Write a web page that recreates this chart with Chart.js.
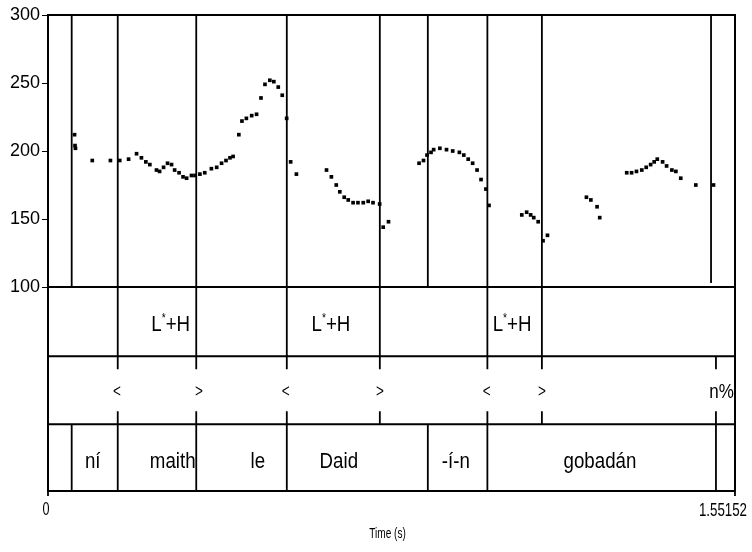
<!DOCTYPE html>
<html>
<head>
<meta charset="utf-8">
<script src="https://cdn.jsdelivr.net/npm/chart.js@4"></script>
<style>
    body { margin: 0; background: #fff; }
    canvas { display: block; }
</style>
</head>
<body>
<canvas id="pitchChart" width="752" height="552"></canvas>
<script>
// pitch track (seconds / Hz)
const pitchTimes = [0.060,0.061,0.062,0.100,0.141,0.162,0.182,0.200,0.211,0.221,
    0.230,0.245,0.252,0.261,0.270,0.279,0.286,0.296,0.305,0.313,
    0.324,0.332,0.343,0.354,0.369,0.381,0.392,0.402,0.411,0.418,
    0.431,0.438,0.448,0.460,0.471,0.481,0.490,0.501,0.510,0.520,
    0.529,0.539,0.548,0.561,0.629,0.640,0.651,0.659,0.669,0.678,
    0.689,0.700,0.712,0.723,0.734,0.749,0.757,0.769,0.838,0.848,
    0.856,0.865,0.871,0.885,0.900,0.914,0.929,0.939,0.949,0.959,
    0.969,0.978,0.989,0.996,1.070,1.081,1.090,1.097,1.107,1.118,
    1.128,1.216,1.226,1.240,1.246,1.307,1.318,1.329,1.341,1.351,
    1.361,1.369,1.376,1.388,1.397,1.409,1.418,1.429,1.463,1.503];
const pitchHz = [212,204,202,193,193,193,194,198,195,192,
    190,186,185,188,191,190,186,184,181,180,
    182,182,183,184,187,188,191,193,195,196,
    212,222,224,226,227,239,249,252,251,247,
    241,224,192,183,186,181,175,170,166,164,
    162,162,162,163,162,161,144,148,191,193,
    197,199,201,202,201,200,199,197,194,191,
    186,179,172,160,153,155,153,151,148,134,
    138,166,164,159,151,184,184,185,186,188,
    190,192,194,192,189,186,185,180,175,175];

const yTicks = [100, 150, 200, 250, 300];
const xTickLabels = ['0', '1.55152'];
const totalTime = 1.55152;

// segment lines in the pitch pane
const pitchLines = [0.0535, 0.1575, 0.3348, 0.5393, 0.7494, 0.8578, 0.9923, 1.1154, 1.4974];

// tiers (value range on the y scale below 100)
const tierEdges = [100, 49, -1, -50];

const tier1Bounds = [0.1575, 0.3348, 0.5393, 0.7494, 0.9923, 1.1154];
const tier1Times = [0.277, 0.639, 1.048];
const tier1Labels = ['L*+H', 'L*+H', 'L*+H'];

const tier2Marks = [0.1575, 0.3348, 0.5393, 0.7494, 0.9923, 1.1154, 1.5085];
const tier2Times = [0.1555, 0.341, 0.537, 0.7494, 0.9905, 1.1154, 1.521];
const tier2Labels = ['<', '>', '<', '>', '<', '>', 'n%'];

const tier3Bounds = [0.0535, 0.1575, 0.3348, 0.5393, 0.8578, 0.9923, 1.5085];
const tier3Times = [0.101, 0.2817, 0.4738, 0.6568, 0.9211, 1.2465];
const tier3Labels = ['ní', 'maith', 'le', 'Daid', '-í-n', 'gobadán'];

const FONT = "'Liberation Sans', Arial, sans-serif";

/**
 * Texto comprimido horizontalmente
 */
function drawText(ctx, text, x, y, size, align, scaleX) {
    ctx.save();
    ctx.font = size + 'px ' + FONT;
    ctx.textAlign = align;
    ctx.translate(x, y);
    ctx.scale(scaleX, 1);
    ctx.fillText(text, 0, 0);
    ctx.restore();
}

/**
 * Dibuja marco, niveles y etiquetas
 */
const tierPlugin = {
    id: 'tiers',
    afterDatasetsDraw(chart) {
        const ctx = chart.ctx;
        const xs = chart.scales.x;
        const ys = chart.scales.y;
        const left = xs.getPixelForValue(0);
        const right = xs.getPixelForValue(totalTime);
        const top = ys.getPixelForValue(300);

        ctx.save();
        ctx.strokeStyle = '#000';
        ctx.fillStyle = '#000';

        // marco
        ctx.lineWidth = 2;
        ctx.beginPath();
        ctx.moveTo(left, top);
        ctx.lineTo(right, top);
        ctx.lineTo(right, ys.getPixelForValue(tierEdges[3]));
        tierEdges.forEach(v => {
            const y = ys.getPixelForValue(v);
            ctx.moveTo(left, y);
            ctx.lineTo(right, y);
        });
        ctx.stroke();

        // lineas de segmento en el panel de pitch
        ctx.lineWidth = 1.8;
        ctx.beginPath();
        pitchLines.forEach((t, i) => {
            const x = xs.getPixelForValue(t);
            const yEnd = i === pitchLines.length - 1 ? 103 : 100;
            ctx.moveTo(x, top);
            ctx.lineTo(x, ys.getPixelForValue(yEnd));
        });
        // nivel 1
        tier1Bounds.forEach(t => {
            const x = xs.getPixelForValue(t);
            ctx.moveTo(x, ys.getPixelForValue(tierEdges[0]));
            ctx.lineTo(x, ys.getPixelForValue(tierEdges[1]));
        });
        // nivel 2: marcas cortas
        const t2Top = ys.getPixelForValue(tierEdges[1]);
        const t2Bot = ys.getPixelForValue(tierEdges[2]);
        tier2Marks.forEach(t => {
            const x = xs.getPixelForValue(t);
            ctx.moveTo(x, t2Top);
            ctx.lineTo(x, t2Top + 13);
            ctx.moveTo(x, t2Bot - 13);
            ctx.lineTo(x, t2Bot);
        });
        // nivel 3
        tier3Bounds.forEach(t => {
            const x = xs.getPixelForValue(t);
            ctx.moveTo(x, ys.getPixelForValue(tierEdges[2]));
            ctx.lineTo(x, ys.getPixelForValue(tierEdges[3]));
        });
        // marcas eje x
        [0, totalTime].forEach(t => {
            const x = xs.getPixelForValue(t);
            const y = ys.getPixelForValue(tierEdges[3]);
            ctx.moveTo(x, y);
            ctx.lineTo(x, y + 5);
        });
        ctx.stroke();

        ctx.textBaseline = 'middle';

        // etiquetas nivel 1 (asterisco en superindice)
        const sx = 0.85;
        const y1 = ys.getPixelForValue((tierEdges[0] + tierEdges[1]) / 2) + 3;
        tier1Labels.forEach((lab, i) => {
            const parts = lab.split('*');
            ctx.font = '22px ' + FONT;
            const wL = ctx.measureText(parts[0]).width * sx;
            const wR = ctx.measureText(parts[1]).width * sx;
            ctx.font = '12px ' + FONT;
            const wS = ctx.measureText('*').width * sx;
            const x = xs.getPixelForValue(tier1Times[i]) - (wL + wS + wR) / 2;
            drawText(ctx, parts[0], x, y1, 22, 'left', sx);
            drawText(ctx, '*', x + wL, y1 - 6, 12, 'left', sx);
            drawText(ctx, parts[1], x + wL + wS, y1, 22, 'left', sx);
        });

        // etiquetas nivel 2
        const y2 = ys.getPixelForValue((tierEdges[1] + tierEdges[2]) / 2) + 2;
        tier2Labels.forEach((lab, i) => {
            drawText(ctx, lab, xs.getPixelForValue(tier2Times[i]), y2,
                lab.length > 1 ? 20 : 18, 'center', lab.length > 1 ? 0.85 : 0.75);
        });

        // etiquetas nivel 3
        const y3 = ys.getPixelForValue((tierEdges[2] + tierEdges[3]) / 2) + 4;
        tier3Labels.forEach((lab, i) => {
            drawText(ctx, lab, xs.getPixelForValue(tier3Times[i]), y3, 22, 'center', sx);
        });

        // eje x
        const yAxis = ys.getPixelForValue(tierEdges[3]);
        ctx.textBaseline = 'top';
        drawText(ctx, xTickLabels[0], left - 2, yAxis + 10, 18, 'center', 0.7);
        drawText(ctx, xTickLabels[1], right + 12, yAxis + 10, 19, 'right', 0.7);
        drawText(ctx, 'Time (s)', (left + right) / 2 - 4, yAxis + 36, 14, 'center', 0.72);

        ctx.restore();
    }
};

const chart = new Chart(document.getElementById('pitchChart'), {
    type: 'scatter',
    data: {
        datasets: [{
            data: pitchTimes.map((t, i) => ({ x: t, y: pitchHz[i] })),
            backgroundColor: '#000',
            borderWidth: 0,
            pointStyle: 'rect',
            pointRadius: 2.6
        }]
    },
    options: {
        responsive: false,
        animation: false,
        layout: {
            padding: { top: 15, right: 17, bottom: 61, left: 0 }
        },
        plugins: {
            legend: { display: false },
            tooltip: { enabled: false }
        },
        scales: {
            x: {
                type: 'linear',
                min: 0,
                max: totalTime,
                display: false
            },
            y: {
                type: 'linear',
                min: -50,
                max: 300,
                afterBuildTicks: scale => {
                    scale.ticks = yTicks.map(v => ({ value: v }));
                },
                afterFit: scale => {
                    scale.width = 48;
                },
                ticks: {
                    color: '#000',
                    padding: 2,
                    font: { family: FONT, size: 18 }
                },
                grid: {
                    drawOnChartArea: false,
                    color: '#000',
                    tickLength: 6
                },
                border: { color: '#000', width: 2 }
            }
        }
    },
    plugins: [tierPlugin]
});
</script>
</body>
</html>
